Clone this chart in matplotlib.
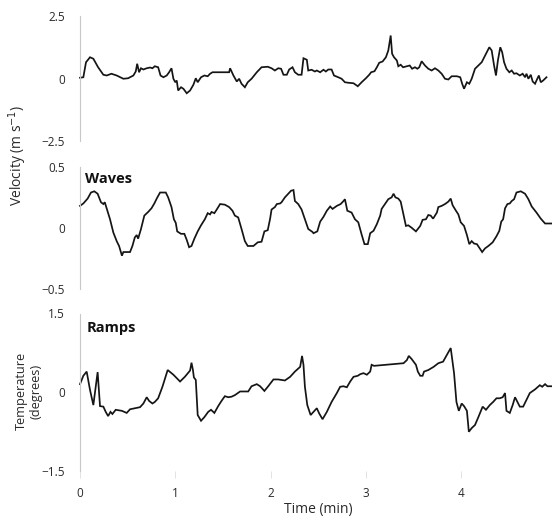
import matplotlib
matplotlib.use("Agg")
import matplotlib.pyplot as plt

plt.rcParams['font.family'] = ['Open Sans', 'DejaVu Sans']

# Velocity trace (top), time in minutes, velocity in m/s
vel_t = [0.00, 0.035, 0.063, 0.105, 0.14, 0.19, 0.245, 0.28, 0.33, 0.385, 0.455, 0.505, 0.56, 0.585, 0.60,
         0.62, 0.64, 0.665, 0.70, 0.735, 0.76, 0.785, 0.82, 0.845, 0.875, 0.91, 0.935, 0.96, 0.98, 1.00,
         1.015, 1.03, 1.06, 1.085, 1.12, 1.155, 1.19, 1.215, 1.235, 1.27, 1.305, 1.34, 1.365, 1.39, 1.485,
         1.565, 1.575, 1.61, 1.645, 1.67, 1.695, 1.73, 1.76, 1.80, 1.855, 1.905, 1.97, 2.01, 2.045, 2.08,
         2.11, 2.135, 2.17, 2.195, 2.23, 2.255, 2.29, 2.325, 2.345, 2.38, 2.395, 2.43, 2.465, 2.485, 2.52,
         2.555, 2.58, 2.605, 2.64, 2.665, 2.71, 2.745, 2.78, 2.815, 2.87, 2.915, 2.955, 3.0, 3.035, 3.055,
         3.09, 3.115, 3.14, 3.175, 3.21, 3.235, 3.26, 3.275, 3.295, 3.325, 3.34, 3.365, 3.39, 3.43, 3.46,
         3.485, 3.515, 3.54, 3.56, 3.585, 3.62, 3.655, 3.69, 3.725, 3.76, 3.795, 3.83, 3.865, 3.90, 3.955,
         3.99, 4.01, 4.03, 4.06, 4.085, 4.11, 4.145, 4.18, 4.215, 4.26, 4.295, 4.32, 4.345, 4.365, 4.385,
         4.41, 4.43, 4.45, 4.475, 4.505, 4.53, 4.555, 4.58, 4.615, 4.645, 4.67, 4.685, 4.705, 4.73, 4.75,
         4.775, 4.79, 4.815, 4.835, 4.86, 4.895]
vel_v = [0.03, 0.05, 0.65, 0.85, 0.79, 0.45, 0.15, 0.12, 0.19, 0.12, -0.01, 0.01, 0.12, 0.28, 0.59,
         0.25, 0.41, 0.36, 0.41, 0.44, 0.41, 0.49, 0.45, 0.12, 0.05, 0.12, 0.25, 0.41, -0.01, -0.15,
         -0.08, -0.48, -0.35, -0.41, -0.59, -0.48, -0.25, 0.01, -0.15, 0.05, 0.12, 0.09, 0.19, 0.25, 0.25,
         0.25, 0.41, 0.12, -0.12, -0.01, -0.21, -0.35, -0.15, -0.01, 0.25, 0.45, 0.47, 0.41, 0.32, 0.41,
         0.39, 0.15, 0.15, 0.36, 0.45, 0.25, 0.15, 0.15, 0.81, 0.75, 0.32, 0.35, 0.28, 0.32, 0.25,
         0.35, 0.28, 0.36, 0.36, 0.12, 0.05, -0.01, -0.15, -0.17, -0.19, -0.31, -0.15, 0.01, 0.15, 0.25,
         0.29, 0.45, 0.63, 0.68, 0.85, 1.12, 1.72, 0.99, 0.85, 0.72, 0.49, 0.55, 0.45, 0.49, 0.52,
         0.39, 0.45, 0.39, 0.45, 0.69, 0.52, 0.39, 0.32, 0.41, 0.32, 0.19, -0.01, -0.04, 0.09, 0.09,
         0.05, -0.21, -0.41, -0.15, -0.21, -0.01, 0.39, 0.52, 0.65, 0.99, 1.25, 1.12, 0.52, 0.12, 0.72,
         1.25, 1.05, 0.65, 0.39, 0.25, 0.32, 0.19, 0.21, 0.12, 0.19, 0.05, 0.19, -0.01, 0.15, -0.12,
         -0.21, -0.08, 0.12, -0.15, -0.08, 0.05]

# Wave-dominated velocity trace (middle)
wave_t = [0.0, 0.035, 0.08, 0.115, 0.15, 0.185, 0.22, 0.245, 0.26, 0.28, 0.315, 0.35, 0.385, 0.41, 0.44,
          0.455, 0.525, 0.55, 0.575, 0.595, 0.61, 0.64, 0.675, 0.715, 0.75, 0.78, 0.805, 0.84, 0.90, 0.925,
          0.96, 0.985, 1.005, 1.02, 1.06, 1.095, 1.12, 1.145, 1.17, 1.20, 1.235, 1.27, 1.31, 1.34, 1.365,
          1.38, 1.41, 1.435, 1.47, 1.52, 1.565, 1.60, 1.625, 1.66, 1.695, 1.73, 1.76, 1.82, 1.865, 1.905,
          1.935, 1.97, 1.995, 2.01, 2.045, 2.065, 2.10, 2.115, 2.15, 2.185, 2.215, 2.24, 2.255, 2.29, 2.325,
          2.36, 2.395, 2.44, 2.45, 2.49, 2.52, 2.555, 2.59, 2.625, 2.65, 2.695, 2.735, 2.765, 2.78, 2.805,
          2.85, 2.885, 2.92, 2.955, 2.985, 3.02, 3.045, 3.08, 3.115, 3.15, 3.165, 3.20, 3.235, 3.27, 3.29,
          3.31, 3.34, 3.365, 3.39, 3.42, 3.445, 3.48, 3.525, 3.57, 3.595, 3.63, 3.655, 3.68, 3.705, 3.745,
          3.76, 3.795, 3.83, 3.865, 3.89, 3.91, 3.945, 3.97, 3.995, 4.03, 4.06, 4.085, 4.11, 4.135, 4.165,
          4.19, 4.22, 4.25, 4.285, 4.33, 4.37, 4.40, 4.42, 4.44, 4.46, 4.485, 4.51, 4.53, 4.555, 4.58,
          4.625, 4.67, 4.705, 4.74, 4.79, 4.835, 4.88, 4.95]
wave_v = [0.18, 0.20, 0.24, 0.29, 0.30, 0.28, 0.21, 0.195, 0.21, 0.16, 0.07, -0.04, -0.11, -0.15, -0.23,
          -0.20, -0.20, -0.15, -0.08, -0.06, -0.09, -0.01, 0.10, 0.13, 0.16, 0.20, 0.24, 0.29, 0.29, 0.25,
          0.17, 0.07, 0.04, -0.03, -0.05, -0.05, -0.10, -0.16, -0.15, -0.09, -0.03, 0.02, 0.07, 0.12, 0.11,
          0.13, 0.12, 0.15, 0.195, 0.19, 0.17, 0.14, 0.10, 0.085, -0.01, -0.11, -0.15, -0.15, -0.12, -0.115,
          -0.03, -0.02, 0.075, 0.15, 0.17, 0.195, 0.20, 0.21, 0.25, 0.28, 0.305, 0.31, 0.22, 0.195, 0.15,
          0.07, -0.01, -0.035, -0.045, -0.03, 0.05, 0.09, 0.14, 0.175, 0.155, 0.18, 0.195, 0.22, 0.235, 0.14,
          0.125, 0.07, 0.045, -0.055, -0.135, -0.135, -0.045, -0.025, 0.03, 0.10, 0.155, 0.195, 0.235, 0.25, 0.28,
          0.25, 0.24, 0.215, 0.125, 0.015, 0.02, 0.0, -0.03, 0.015, 0.065, 0.07, 0.105, 0.10, 0.075, 0.125,
          0.17, 0.18, 0.195, 0.215, 0.24, 0.185, 0.14, 0.11, 0.045, 0.015, -0.06, -0.135, -0.11, -0.13, -0.135,
          -0.165, -0.20, -0.17, -0.15, -0.12, -0.07, -0.025, 0.05, 0.07, 0.16, 0.195, 0.20, 0.22, 0.235, 0.29,
          0.30, 0.28, 0.235, 0.175, 0.125, 0.075, 0.035, 0.035]

# Temperature trace with ramp structures (bottom), degrees
temp_t = [0.0, 0.035, 0.07, 0.105, 0.14, 0.165, 0.185, 0.21, 0.245, 0.27, 0.295, 0.32, 0.34, 0.375, 0.44,
          0.49, 0.525, 0.575, 0.63, 0.665, 0.70, 0.725, 0.76, 0.785, 0.82, 0.865, 0.92, 0.98, 1.05, 1.10,
          1.155, 1.17, 1.185, 1.195, 1.215, 1.235, 1.27, 1.305, 1.345, 1.375, 1.41, 1.45, 1.485, 1.52, 1.555,
          1.59, 1.625, 1.68, 1.73, 1.765, 1.80, 1.855, 1.89, 1.935, 1.975, 2.03, 2.08, 2.15, 2.205, 2.255,
          2.31, 2.33, 2.345, 2.36, 2.385, 2.42, 2.46, 2.485, 2.51, 2.545, 2.59, 2.64, 2.695, 2.73, 2.765,
          2.80, 2.835, 2.87, 2.915, 2.94, 2.975, 3.01, 3.045, 3.06, 3.085, 3.395, 3.43, 3.45, 3.48, 3.525,
          3.545, 3.57, 3.595, 3.61, 3.655, 3.71, 3.76, 3.81, 3.85, 3.89, 3.925, 3.95, 3.975, 4.005, 4.03,
          4.06, 4.08, 4.11, 4.145, 4.18, 4.225, 4.26, 4.30, 4.335, 4.37, 4.405, 4.435, 4.46, 4.475, 4.51,
          4.54, 4.565, 4.59, 4.615, 4.65, 4.685, 4.72, 4.775, 4.825, 4.85, 4.88, 4.905, 4.95]
temp_v = [0.15, 0.31, 0.39, 0.04, -0.25, 0.10, 0.38, -0.27, -0.28, -0.38, -0.46, -0.38, -0.42, -0.34, -0.36,
          -0.40, -0.33, -0.31, -0.29, -0.22, -0.10, -0.17, -0.22, -0.19, -0.12, 0.10, 0.42, 0.33, 0.20, 0.29,
          0.41, 0.56, 0.42, 0.28, 0.23, -0.44, -0.55, -0.48, -0.38, -0.34, -0.40, -0.27, -0.17, -0.08, -0.10,
          -0.09, -0.06, 0.01, 0.01, 0.01, 0.11, 0.15, 0.11, 0.02, 0.11, 0.24, 0.24, 0.22, 0.29, 0.39,
          0.48, 0.69, 0.52, 0.10, -0.25, -0.44, -0.36, -0.31, -0.41, -0.52, -0.38, -0.19, -0.02, 0.10, 0.11,
          0.09, 0.20, 0.29, 0.31, 0.34, 0.36, 0.33, 0.39, 0.52, 0.50, 0.55, 0.61, 0.69, 0.63, 0.52,
          0.39, 0.31, 0.31, 0.39, 0.42, 0.48, 0.55, 0.58, 0.71, 0.84, 0.36, -0.19, -0.36, -0.22, -0.27,
          -0.36, -0.76, -0.69, -0.63, -0.48, -0.28, -0.34, -0.25, -0.19, -0.12, -0.12, -0.10, -0.02, -0.36, -0.40,
          -0.25, -0.10, -0.19, -0.28, -0.28, -0.15, -0.02, 0.05, 0.13, 0.10, 0.15, 0.11, 0.11]

x_ticks = [0, 1, 2, 3, 4]
vel_ticks = [-2.5, 0, 2.5]
wave_ticks = [-0.5, 0, 0.5]
temp_ticks = [-1.5, 0, 1.5]

W, H = 552, 524
fig = plt.figure(figsize=(W / 100, H / 100), dpi=100)

x0, x1 = 80, 552
tmax = (x1 - x0) / 95.3


def make_axes(top_px, bottom_px):
    ax = fig.add_axes([x0 / W, 1 - bottom_px / H, (x1 - x0) / W, (bottom_px - top_px) / H])
    for s in ('top', 'right', 'bottom'):
        ax.spines[s].set_visible(False)
    ax.spines['left'].set_color('#c8c8c8')
    ax.spines['left'].set_linewidth(0.8)
    ax.set_xlim(0, tmax)
    ax.tick_params(axis='y', length=0, pad=11, labelsize=8.5, labelcolor='#2a2a2a')
    return ax


line_kw = dict(color='#151515', linewidth=1.25, solid_joinstyle='miter', clip_on=False)

ax1 = make_axes(16, 141)
ax1.plot(vel_t, vel_v, **line_kw)
ax1.set_ylim(-2.5, 2.5)
ax1.set_yticks(vel_ticks, ['\u22122.5', '0', '2.5'])
ax1.set_xticks([])

ax2 = make_axes(167, 288.5)
ax2.plot(wave_t, wave_v, **line_kw)
ax2.set_ylim(-0.5, 0.5)
ax2.set_yticks(wave_ticks, ['\u22120.5', '0', '0.5'])
ax2.set_xticks([])
ax2.text(5 / (x1 - x0) * tmax, 0.46, 'Waves', fontsize=10.5, fontweight='bold',
         ha='left', va='top', color='#111111')

ax3 = make_axes(313.5, 470.5)
ax3.plot(temp_t, temp_v, **line_kw)
ax3.set_ylim(-1.5, 1.5)
ax3.set_yticks(temp_ticks, ['\u22121.5', '0', '1.5'])
ax3.set_xticks(x_ticks, [str(v) for v in x_ticks])
ax3.tick_params(axis='x', length=5, width=0.6, color='#dddddd', pad=7,
                labelsize=8.5, labelcolor='#2a2a2a')
ax3.text(7 / (x1 - x0) * tmax, 1.35, 'Ramps', fontsize=10.5, fontweight='bold',
         ha='left', va='top', color='#111111')

fig.text(318 / W, 1 - 509 / H, 'Time (min)', ha='center', va='center',
         fontsize=10, color='#2a2a2a')
fig.text(18 / W, 1 - 155 / H, 'Velocity (m s$^{-1}$)', rotation=90, ha='center', va='center',
         fontsize=10, color='#2a2a2a')
fig.text(29 / W, 1 - 391 / H, 'Temperature\n(degrees)', rotation=90, ha='center', va='center',
         fontsize=9.2, color='#2a2a2a', linespacing=1.15)

fig.savefig('out.png', dpi=100)
